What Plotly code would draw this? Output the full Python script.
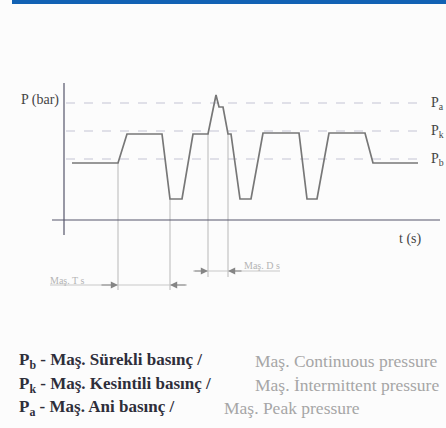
import plotly.graph_objects as go

# ---- data (time in s-units, pressure in bar-units; schematic) ----
time = [0.8, 5.4, 6.3, 9.8, 10.6, 11.8, 12.9, 14.4, 15.2, 15.5, 15.9, 16.4, 16.7,
        17.6, 18.7, 19.9, 23.5, 24.3, 25.3, 26.5, 30.1, 30.9, 35.4]
pressure = [5.7, 5.7, 8.6, 8.6, 2.1, 2.1, 8.6, 8.6, 12.5, 11.3, 11.3, 8.6, 8.6,
            2.1, 2.1, 8.7, 8.7, 2.1, 2.1, 8.7, 8.7, 5.7, 5.7]
level_names = ["P<sub>a</sub>", "P<sub>k</sub>", "P<sub>b</sub>"]
level_values = [11.7, 8.9, 6.1]
guide_times_T = [5.4, 10.6]
guide_times_D = [14.4, 16.4]
legend_tr = ["P<sub>b</sub> - Maş. Sürekli basınç /",
             "P<sub>k</sub> - Maş. Kesintili basınç /",
             "P<sub>a</sub> - Maş. Ani basınç /"]
legend_en = ["Maş. Continuous pressure", "Maş. İntermittent pressure", "Maş. Peak pressure"]
legend_en_x = [253, 253, 222]

W, H = 446, 428
XR = [-6.4, 38.2]
YR = [-20.8, 22.0]

fig = go.Figure()

# dashed level lines
for v in level_values:
    fig.add_trace(go.Scatter(x=[0.2, 35.4], y=[v, v], mode="lines",
                             line=dict(color="#c4c4d4", width=1, dash="dash"),
                             hoverinfo="skip", showlegend=False))

# guide verticals
for t in guide_times_T:
    p = pressure[time.index(t)]
    fig.add_trace(go.Scatter(x=[t, t], y=[p, -7.0], mode="lines",
                             line=dict(color="#b8b8b8", width=1),
                             hoverinfo="skip", showlegend=False))
for t in guide_times_D:
    p = pressure[time.index(t)]
    fig.add_trace(go.Scatter(x=[t, t], y=[p, -5.7], mode="lines",
                             line=dict(color="#b8b8b8", width=1),
                             hoverinfo="skip", showlegend=False))

# waveform
fig.add_trace(go.Scatter(x=time, y=pressure, mode="lines",
                         line=dict(color="#777777", width=1.7),
                         hoverinfo="skip", showlegend=False))

shapes = [
    # top blue band
    dict(type="rect", xref="paper", yref="paper", x0=12/W, x1=1, y0=1-4/H, y1=1,
         fillcolor="#1262b4", line=dict(width=0), layer="above"),
    # axes
    dict(type="line", xref="x", yref="y", x0=0, x1=0, y0=-1.5, y1=13.7,
         line=dict(color="#55556a", width=1.2)),
    dict(type="line", xref="x", yref="y", x0=-1.2, x1=37.6, y0=0, y1=0,
         line=dict(color="#55556a", width=1.2)),
    # dimension lines
    dict(type="line", xref="x", yref="y", x0=-1.4, x1=12.1, y0=-6.5, y1=-6.5,
         line=dict(color="#c8c8c8", width=1)),
    dict(type="line", xref="x", yref="y", x0=12.9, x1=21.6, y0=-5.1, y1=-5.1,
         line=dict(color="#c8c8c8", width=1)),
]

ann = []
# arrowheads on dimension lines
for tip, tail, yy in [(5.4, 3.6, -6.5), (10.6, 12.4, -6.5), (14.4, 12.9, -5.1), (16.4, 17.9, -5.1)]:
    ann.append(dict(x=tip, y=yy, ax=tail, ay=yy, xref="x", yref="y", axref="x", ayref="y",
                    text="", showarrow=True, arrowhead=2, arrowsize=1.2, arrowwidth=1.2,
                    arrowcolor="#858585"))
serif = "Liberation Serif"
ann.append(dict(x=0.3, y=-6.0, xref="x", yref="y", text="Maş. T s", showarrow=False,
                font=dict(family=serif, size=10, color="#b4b4b4")))
ann.append(dict(x=19.8, y=-4.5, xref="x", yref="y", text="Maş. D s", showarrow=False,
                font=dict(family=serif, size=10, color="#b4b4b4")))
ann.append(dict(x=-0.3, y=12.0, xref="x", yref="y", text="P (bar)", showarrow=False,
                xanchor="right", font=dict(family=serif, size=14, color="#444444")))
ann.append(dict(x=34.6, y=-1.9, xref="x", yref="y", text="t (s)", showarrow=False,
                font=dict(family=serif, size=14, color="#444444")))
for name, v in zip(level_names, level_values):
    ann.append(dict(x=36.5, y=v, xref="x", yref="y", text=name, showarrow=False,
                    xanchor="left", font=dict(family=serif, size=14, color="#444444")))
for i, (tr, en, ex) in enumerate(zip(legend_tr, legend_en, legend_en_x)):
    yy = 1 - (361 + 23.5*i)/H
    ann.append(dict(x=17/W, y=yy, xref="paper", yref="paper",
                    xanchor="left", yanchor="middle", showarrow=False,
                    text=f"<b>{tr}</b>",
                    font=dict(family=serif, size=17, color="#2e2e3a")))
    ann.append(dict(x=ex/W, y=yy, xref="paper", yref="paper",
                    xanchor="left", yanchor="middle", showarrow=False,
                    text=en, font=dict(family=serif, size=17.5, color="#a6a6a6")))

fig.update_layout(
    width=W, height=H, autosize=False,
    margin=dict(l=0, r=0, t=0, b=0),
    paper_bgcolor="#fcfcfc", plot_bgcolor="#fcfcfc",
    xaxis=dict(range=XR, visible=False, fixedrange=True),
    yaxis=dict(range=YR, visible=False, fixedrange=True),
    shapes=shapes, annotations=ann, showlegend=False,
)

fig.write_html("out.html", config={"displayModeBar": False},
               post_script="document.body.style.margin='0';document.body.style.overflow='hidden';")
